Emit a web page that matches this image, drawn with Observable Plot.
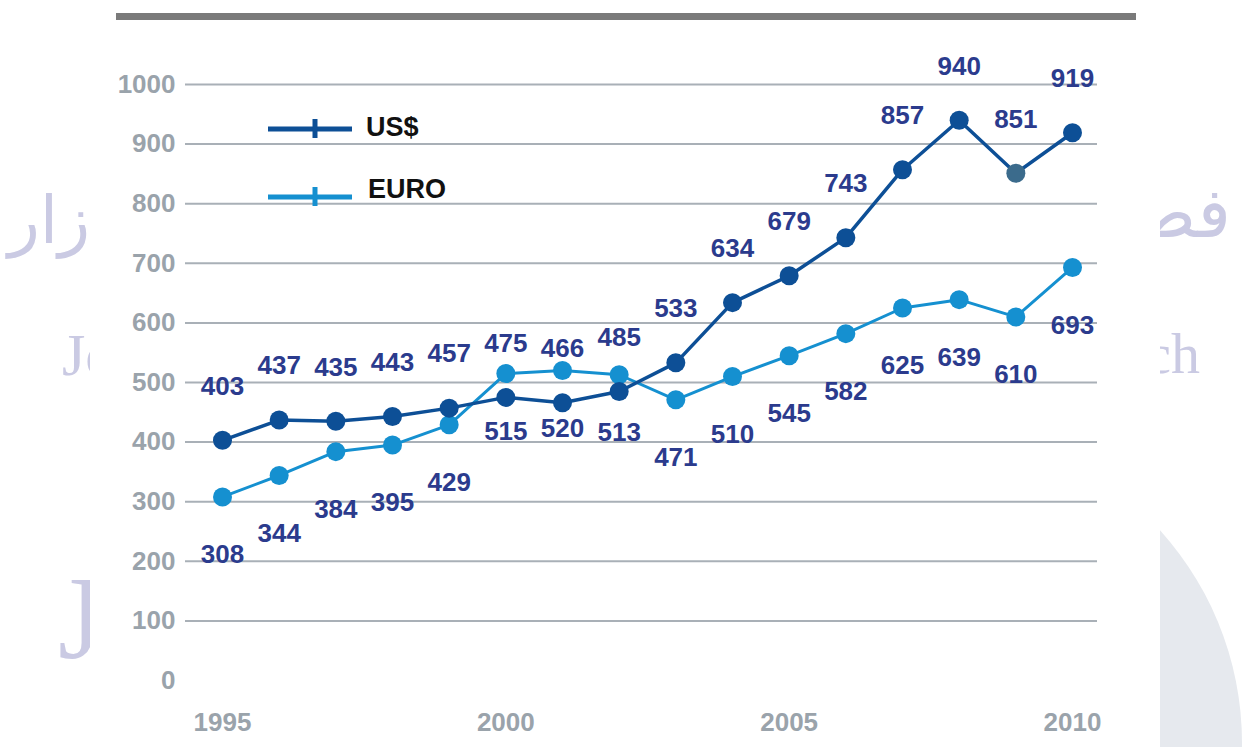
<!DOCTYPE html>
<html>
<head>
<meta charset="utf-8">
<script src="https://cdn.jsdelivr.net/npm/d3@7"></script>
<script src="https://cdn.jsdelivr.net/npm/@observablehq/plot@0.6"></script>
<style>
  html, body { margin: 0; padding: 0; background: #fff; }
  #page { position: relative; width: 1247px; height: 747px; overflow: hidden; background: #fff; }
  .abs { position: absolute; }
  .wm { position: absolute; color: #cacae3; white-space: nowrap; line-height: 1; }
</style>
</head>
<body>
<div id="page">
  <div class="abs" style="left:608px;top:426px;width:634px;height:634px;border-radius:50%;background:#e6e9ee;"></div>
  <div class="wm" style="left:8px;top:188px;font-family:'DejaVu Sans';font-size:66px;" dir="rtl">زار</div>
  <div class="wm" style="right:16px;top:178px;font-family:'DejaVu Sans';font-size:70px;" dir="rtl">فصلنامه</div>
  <div class="wm" style="left:62px;top:325px;font-family:'Liberation Serif';font-size:60px;">Jo</div>
  <div class="wm" style="right:47px;top:325px;font-family:'Liberation Serif';font-size:58px;">arch</div>
  <div class="wm" style="left:58px;top:560px;font-family:'Liberation Serif';font-size:118px;">J</div>
  <div class="abs" style="left:90px;top:0;width:1070px;height:747px;background:#fff;"></div>
  <div class="abs" style="left:116px;top:13px;width:1020px;height:7px;background:#7a7a7a;"></div>
  <div id="chart" class="abs" style="left:0;top:0;"></div>
  <div id="legend" class="abs" style="left:0;top:0;"></div>
</div>
<script>
const years = [1995,1996,1997,1998,1999,2000,2001,2002,2003,2004,2005,2006,2007,2008,2009,2010];
const usd   = [403,437,435,443,457,475,466,485,533,634,679,743,857,940,851,919];
const euro  = [308,344,384,395,429,515,520,513,471,510,545,582,625,639,610,693];
const seriesNames = ["US$", "EURO"];
const yTicks = [0,100,200,300,400,500,600,700,800,900,1000];
const gridValues = [100,200,300,400,500,600,700,800,900,1000];
const xTicks = [1995,2000,2005,2010];

const usdColor = "#0d4f96";
const euroColor = "#1590d0";
const labelColor = "#2b3b8d";
const axisColor = "#9aa3ab";

const usdData = years.map((year, i) => ({year, value: usd[i]}));
const euroData = years.map((year, i) => ({year, value: euro[i]}));

const chart = Plot.plot({
  width: 1247,
  height: 747,
  marginLeft: 185,
  marginRight: 150,
  marginTop: 84,
  marginBottom: 67,
  style: {
    background: "transparent",
    fontFamily: "'Liberation Sans', Arial, sans-serif",
    fontWeight: "bold",
    fontSize: "26px"
  },
  x: {domain: [1995, 2010], insetLeft: 37, insetRight: 25},
  y: {domain: [0, 1000]},
  marks: [
    Plot.ruleY(gridValues, {stroke: "#a9b0b7", strokeWidth: 2}),
    Plot.axisY({ticks: yTicks, tickSize: 0, tickPadding: 10, fill: axisColor, label: null, tickFormat: d => String(d), fontSize: 26}),
    Plot.axisX({ticks: xTicks, tickSize: 0, tickPadding: 32, fill: axisColor, label: null, tickFormat: d => String(d), fontSize: 26}),
    Plot.line(euroData, {x: "year", y: "value", stroke: euroColor, strokeWidth: 3}),
    Plot.line(usdData, {x: "year", y: "value", stroke: usdColor, strokeWidth: 3.5}),
    Plot.dot(euroData, {x: "year", y: "value", r: 9.5, fill: euroColor}),
    Plot.dot(usdData, {x: "year", y: "value", r: 9.5, fill: d => d.year === 2009 ? "#3b6b8c" : usdColor}),
    Plot.text(usdData, {x: "year", y: "value", text: d => String(d.value), dy: -54, fill: labelColor, fontSize: 26}),
    Plot.text(euroData, {x: "year", y: "value", text: d => String(d.value), dy: 58, fill: labelColor, fontSize: 26})
  ]
});
document.getElementById("chart").appendChild(chart);

// legend
const legend = d3.create("svg").attr("width", 500).attr("height", 240);
const entries = [
  {name: seriesNames[0], color: usdColor, y: 129, ty: 127, tx: 366},
  {name: seriesNames[1], color: euroColor, y: 197, ty: 189, tx: 368}
];
for (const e of entries) {
  legend.append("line").attr("x1", 268).attr("x2", 352).attr("y1", e.y).attr("y2", e.y)
    .attr("stroke", e.color).attr("stroke-width", 5);
  legend.append("line").attr("x1", 315).attr("x2", 315).attr("y1", e.y - 10).attr("y2", e.y + 9)
    .attr("stroke", e.color).attr("stroke-width", 5);
  legend.append("text").attr("x", e.tx).attr("y", e.ty).attr("dy", "0.35em")
    .attr("font-family", "'Liberation Sans Narrow', 'Liberation Sans', sans-serif")
    .attr("font-weight", "bold").attr("font-size", 27).attr("fill", "#111")
    .text(e.name);
}
document.getElementById("legend").appendChild(legend.node());
</script>
</body>
</html>
